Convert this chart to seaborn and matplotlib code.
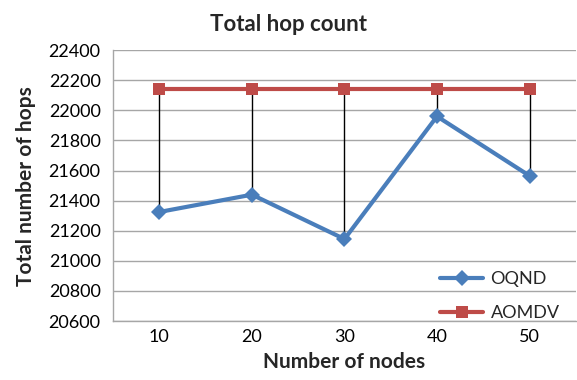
import matplotlib
matplotlib.use("Agg")
import matplotlib.pyplot as plt
import seaborn as sns
import pandas as pd

nodes = ["10", "20", "30", "40", "50"]
oqnd = [21325, 21440, 21145, 21960, 21565]
aomdv = [22140, 22140, 22140, 22140, 22140]
y_ticks = [20600, 20800, 21000, 21200, 21400, 21600, 21800, 22000, 22200, 22400]

sns.set_theme(style="white")
plt.rcParams["font.family"] = ["Lato", "DejaVu Sans"]

df = pd.DataFrame({
    "nodes": nodes * 2,
    "hops": oqnd + aomdv,
    "series": ["OQND"] * len(nodes) + ["AOMDV"] * len(nodes),
})
df["x"] = list(range(len(nodes))) * 2

fig = plt.figure(figsize=(5.77, 3.80), dpi=100)
ax = fig.add_axes([0.196, 0.155, 0.802, 0.713])

grid_c = "#a6a6a6"
for t in y_ticks:
    ax.axhline(t, color=grid_c, lw=1.0, zorder=0)

# high-low lines between the two series
xs = list(range(len(nodes)))
ax.vlines(xs, oqnd, aomdv, colors="black", lw=1.0, zorder=1)

palette = {"OQND": "#4a7ebb", "AOMDV": "#be4b48"}
sns.lineplot(data=df, x="x", y="hops", hue="series", style="series",
             markers={"OQND": "D", "AOMDV": "s"}, dashes=False,
             palette=palette, hue_order=["OQND", "AOMDV"],
             linewidth=3, markersize=8, markeredgewidth=0, ax=ax, zorder=2)

ax.set_xlim(-0.5, len(nodes) - 0.5)
ax.set_ylim(20600, 22400)
ax.set_yticks(y_ticks)
ax.set_yticklabels([str(t) for t in y_ticks])
ax.set_xticks(xs)
ax.set_xticklabels(nodes)
ax.tick_params(axis="both", labelsize=13, colors="black", length=0, pad=6)
ax.tick_params(axis="y", length=5, color=grid_c, direction="out", pad=4)

for s in ["top", "right"]:
    ax.spines[s].set_visible(False)
for s in ["left", "bottom"]:
    ax.spines[s].set_color(grid_c)
    ax.spines[s].set_linewidth(1.0)

ax.set_xlabel("Number of nodes", fontsize=15, fontweight="bold", labelpad=5)
ax.set_ylabel("Total number of hops", fontsize=15, fontweight="bold", labelpad=9)
fig.text(0.5, 0.935, "Total hop count", ha="center", va="center",
         fontsize=16, fontweight="bold")

leg = ax.legend(loc="lower right", frameon=False, fontsize=13,
                bbox_to_anchor=(1.0, -0.06), handlelength=2.4,
                handletextpad=0.4, labelspacing=1.0)
leg.set_title(None)

fig.savefig("out.png", dpi=100)
